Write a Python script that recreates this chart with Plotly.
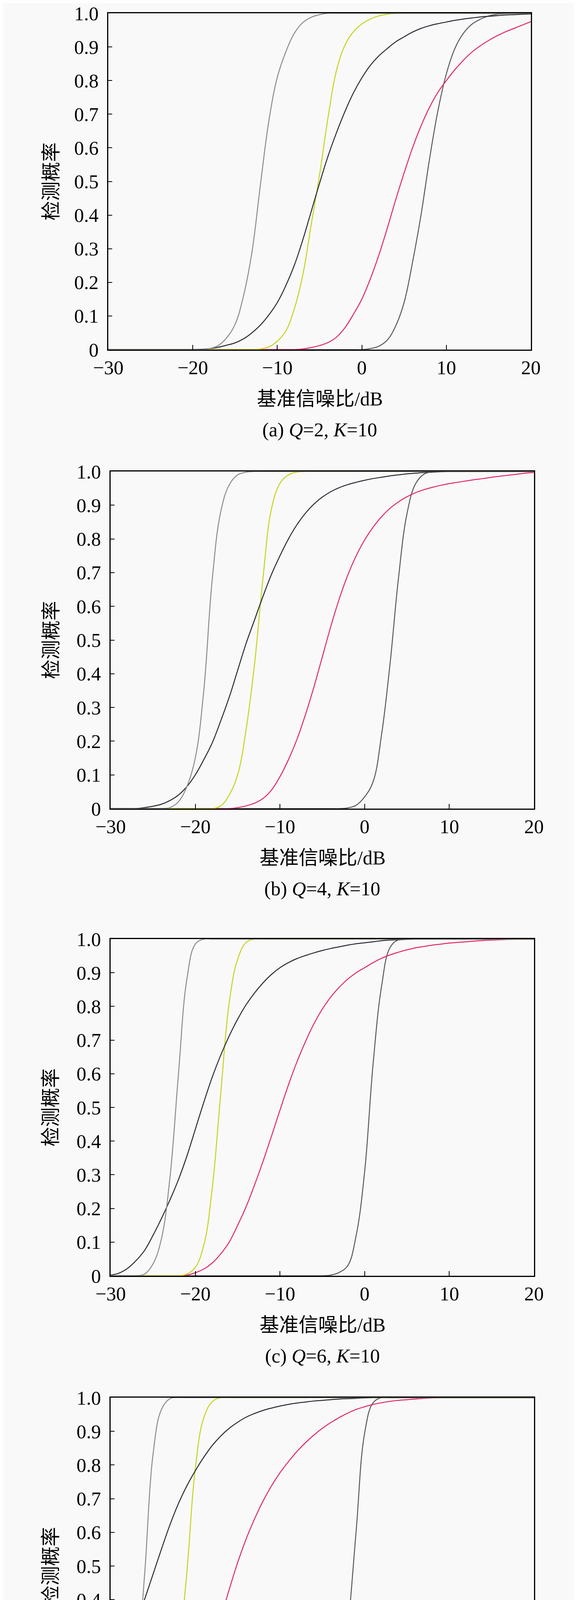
import plotly.graph_objects as go
from plotly.subplots import make_subplots

# SNR grid (dB)
X_DB = [-30, -29, -28, -27, -26, -25, -24, -23, -22, -21,
        -20, -19, -18, -17, -16, -15, -14, -13, -12, -11,
        -10, -9, -8, -7, -6, -5, -4, -3, -2, -1,
        0, 1, 2, 3, 4, 5, 6, 7, 8, 9,
        10, 11, 12, 13, 14, 15, 16, 17, 18, 19, 20]

SERIES = ["QS-MIMO", "QS-PA", "QK-MIMO", "QK-PA", "HD-PAMIMO"]
COLORS = ["#5a5a5a", "#e0286a", "#c5d31c", "#2b2b35", "#8c8c8c"]

PANEL_LETTERS = ["a", "b", "c", "d"]
PANEL_Q = [2, 4, 6, 9]
PANEL_K = 10

# ---- (a) Q=2 ----
QS_MIMO_A = [0, 0, 0, 0, 0, 0, 0, 0, 0, 0,
             0, 0, 0, 0, 0, 0, 0, 0, 0, 0,
             0, 0, 0, 0, 0, 0, 0, 0, 0, 0,
             0, 0.003, 0.01, 0.028, 0.07, 0.14, 0.26, 0.40, 0.565, 0.71,
             0.82, 0.895, 0.94, 0.967, 0.982, 0.992, 0.997, 0.999, 1, 1, 1]
QS_PA_A = [0, 0, 0, 0, 0, 0, 0, 0, 0, 0,
           0, 0, 0, 0, 0, 0, 0, 0, 0, 0,
           0, 0, 0, 0.002, 0.006, 0.012, 0.021, 0.037, 0.065, 0.105,
           0.15, 0.21, 0.28, 0.36, 0.445, 0.525, 0.60, 0.665, 0.72, 0.765,
           0.80, 0.832, 0.86, 0.884, 0.903, 0.919, 0.933, 0.945, 0.955, 0.965, 0.975]
QK_MIMO_A = [0, 0, 0, 0, 0, 0, 0, 0, 0, 0,
             0, 0, 0, 0, 0, 0, 0, 0, 0.002, 0.008,
             0.025, 0.055, 0.12, 0.22, 0.37, 0.52, 0.69, 0.83, 0.905, 0.945,
             0.968, 0.983, 0.992, 0.997, 1, 1, 1, 1, 1, 1,
             1, 1, 1, 1, 1, 1, 1, 1, 1, 1, 1]
QK_PA_A = [0, 0, 0, 0, 0, 0, 0, 0, 0, 0,
           0, 0.001, 0.003, 0.007, 0.013, 0.02, 0.032, 0.05, 0.073, 0.103,
           0.14, 0.19, 0.25, 0.325, 0.41, 0.495, 0.575, 0.645, 0.708, 0.763,
           0.808, 0.845, 0.873, 0.895, 0.915, 0.93, 0.944, 0.955, 0.963, 0.969,
           0.974, 0.979, 0.983, 0.986, 0.989, 0.991, 0.993, 0.995, 0.996, 0.997, 0.998]
HD_PAMIMO_A = [0, 0, 0, 0, 0, 0, 0, 0, 0, 0,
               0, 0, 0.003, 0.012, 0.035, 0.075, 0.16, 0.29, 0.49, 0.68,
               0.81, 0.885, 0.94, 0.972, 0.988, 0.996, 1, 1, 1, 1,
               1, 1, 1, 1, 1, 1, 1, 1, 1, 1,
               1, 1, 1, 1, 1, 1, 1, 1, 1, 1, 1]

# ---- (b) Q=4 ----
QS_MIMO_B = [0, 0, 0, 0, 0, 0, 0, 0, 0, 0,
             0, 0, 0, 0, 0, 0, 0, 0, 0, 0,
             0, 0, 0, 0, 0, 0, 0, 0, 0.002, 0.01,
             0.035, 0.08, 0.22, 0.43, 0.685, 0.875, 0.963, 0.992, 1, 1,
             1, 1, 1, 1, 1, 1, 1, 1, 1, 1, 1]
QS_PA_B = [0, 0, 0, 0, 0, 0, 0, 0, 0, 0,
           0, 0, 0, 0, 0, 0.003, 0.008, 0.016, 0.03, 0.055,
           0.095, 0.145, 0.205, 0.278, 0.36, 0.45, 0.54, 0.622, 0.692, 0.75,
           0.797, 0.835, 0.866, 0.891, 0.91, 0.925, 0.937, 0.946, 0.953, 0.959,
           0.964, 0.968, 0.972, 0.976, 0.979, 0.983, 0.986, 0.989, 0.992, 0.995, 0.997]
QK_MIMO_B = [0, 0, 0, 0, 0, 0, 0, 0, 0, 0,
             0, 0, 0, 0.008, 0.04, 0.10, 0.235, 0.43, 0.685, 0.89,
             0.965, 0.99, 0.998, 1, 1, 1, 1, 1, 1, 1,
             1, 1, 1, 1, 1, 1, 1, 1, 1, 1,
             1, 1, 1, 1, 1, 1, 1, 1, 1, 1, 1]
QK_PA_B = [0, 0, 0, 0, 0.003, 0.007, 0.013, 0.024, 0.04, 0.065,
           0.10, 0.145, 0.195, 0.26, 0.33, 0.41, 0.49, 0.56, 0.63, 0.695,
           0.75, 0.80, 0.842, 0.876, 0.903, 0.924, 0.94, 0.952, 0.961, 0.968,
           0.974, 0.979, 0.983, 0.987, 0.99, 0.993, 0.995, 0.997, 0.998, 0.999,
           1, 1, 1, 1, 1, 1, 1, 1, 1, 1, 1]
HD_PAMIMO_B = [0, 0, 0, 0, 0, 0, 0, 0.003, 0.02, 0.065,
               0.15, 0.35, 0.68, 0.88, 0.96, 0.99, 0.998, 1, 1, 1,
               1, 1, 1, 1, 1, 1, 1, 1, 1, 1,
               1, 1, 1, 1, 1, 1, 1, 1, 1, 1,
               1, 1, 1, 1, 1, 1, 1, 1, 1, 1, 1]

# ---- (c) Q=6 ----
QS_MIMO_C = [0, 0, 0, 0, 0, 0, 0, 0, 0, 0,
             0, 0, 0, 0, 0, 0, 0, 0, 0, 0,
             0, 0, 0, 0, 0, 0, 0.002, 0.01, 0.03, 0.12,
             0.31, 0.63, 0.86, 0.975, 0.998, 1, 1, 1, 1, 1,
             1, 1, 1, 1, 1, 1, 1, 1, 1, 1, 1]
QS_PA_C = [0, 0, 0, 0, 0, 0, 0, 0, 0, 0.002,
           0.009, 0.02, 0.038, 0.065, 0.10, 0.15, 0.205, 0.27, 0.34, 0.415,
           0.492, 0.567, 0.635, 0.695, 0.748, 0.792, 0.828, 0.857, 0.881, 0.90,
           0.915, 0.93, 0.943, 0.953, 0.961, 0.968, 0.974, 0.978, 0.982, 0.985,
           0.988, 0.99, 0.992, 0.994, 0.996, 0.997, 0.998, 0.999, 1, 1, 1]
QK_MIMO_C = [0, 0, 0, 0, 0, 0, 0, 0, 0, 0.005,
             0.025, 0.09, 0.26, 0.54, 0.81, 0.94, 0.99, 1, 1, 1,
             1, 1, 1, 1, 1, 1, 1, 1, 1, 1,
             1, 1, 1, 1, 1, 1, 1, 1, 1, 1,
             1, 1, 1, 1, 1, 1, 1, 1, 1, 1, 1]
QK_PA_C = [0.002, 0.008, 0.022, 0.045, 0.075, 0.12, 0.17, 0.225, 0.285, 0.355,
           0.435, 0.515, 0.59, 0.655, 0.712, 0.762, 0.805, 0.84, 0.87, 0.895,
           0.915, 0.93, 0.942, 0.951, 0.959, 0.966, 0.972, 0.977, 0.982, 0.986,
           0.989, 0.992, 0.995, 0.997, 0.998, 0.999, 1, 1, 1, 1,
           1, 1, 1, 1, 1, 1, 1, 1, 1, 1, 1]
HD_PAMIMO_C = [0, 0, 0, 0, 0.005, 0.035, 0.11, 0.29, 0.595, 0.88,
               0.985, 1, 1, 1, 1, 1, 1, 1, 1, 1,
               1, 1, 1, 1, 1, 1, 1, 1, 1, 1,
               1, 1, 1, 1, 1, 1, 1, 1, 1, 1,
               1, 1, 1, 1, 1, 1, 1, 1, 1, 1, 1]

# ---- (d) Q=9 ----
QS_MIMO_D = [0, 0, 0, 0, 0, 0, 0, 0, 0, 0,
             0, 0, 0, 0, 0, 0, 0, 0, 0, 0,
             0, 0, 0, 0, 0, 0.002, 0.02, 0.10, 0.31, 0.605,
             0.895, 0.985, 1, 1, 1, 1, 1, 1, 1, 1,
             1, 1, 1, 1, 1, 1, 1, 1, 1, 1, 1]
QS_PA_D = [0, 0, 0, 0, 0, 0.004, 0.013, 0.028, 0.05, 0.085,
           0.135, 0.195, 0.265, 0.345, 0.43, 0.51, 0.58, 0.64, 0.693, 0.738,
           0.777, 0.81, 0.84, 0.866, 0.889, 0.909, 0.926, 0.941, 0.954, 0.965,
           0.973, 0.98, 0.985, 0.989, 0.992, 0.994, 0.996, 0.998, 0.999, 1,
           1, 1, 1, 1, 1, 1, 1, 1, 1, 1, 1]
QK_MIMO_D = [0, 0, 0, 0, 0, 0, 0.006, 0.055, 0.23, 0.48,
             0.79, 0.94, 0.988, 1, 1, 1, 1, 1, 1, 1,
             1, 1, 1, 1, 1, 1, 1, 1, 1, 1,
             1, 1, 1, 1, 1, 1, 1, 1, 1, 1,
             1, 1, 1, 1, 1, 1, 1, 1, 1, 1, 1]
QK_PA_D = [0.10, 0.175, 0.255, 0.325, 0.40, 0.475, 0.55, 0.622, 0.685, 0.738,
           0.783, 0.823, 0.858, 0.886, 0.909, 0.927, 0.942, 0.953, 0.962, 0.969,
           0.975, 0.98, 0.984, 0.987, 0.99, 0.992, 0.994, 0.996, 0.997, 0.998,
           0.999, 1, 1, 1, 1, 1, 1, 1, 1, 1,
           1, 1, 1, 1, 1, 1, 1, 1, 1, 1, 1]
HD_PAMIMO_D = [0, 0.018, 0.065, 0.19, 0.47, 0.83, 0.965, 0.997, 1, 1,
               1, 1, 1, 1, 1, 1, 1, 1, 1, 1,
               1, 1, 1, 1, 1, 1, 1, 1, 1, 1,
               1, 1, 1, 1, 1, 1, 1, 1, 1, 1,
               1, 1, 1, 1, 1, 1, 1, 1, 1, 1, 1]

PANEL_DATA = [
    [QS_MIMO_A, QS_PA_A, QK_MIMO_A, QK_PA_A, HD_PAMIMO_A],
    [QS_MIMO_B, QS_PA_B, QK_MIMO_B, QK_PA_B, HD_PAMIMO_B],
    [QS_MIMO_C, QS_PA_C, QK_MIMO_C, QK_PA_C, HD_PAMIMO_C],
    [QS_MIMO_D, QS_PA_D, QK_MIMO_D, QK_PA_D, HD_PAMIMO_D],
]

X_TICKS = [-30, -20, -10, 0, 10, 20]
X_TICK_TEXT = ["\u221230", "\u221220", "\u221210", "0", "10", "20"]
Y_TICKS = [0, 0.1, 0.2, 0.3, 0.4, 0.5, 0.6, 0.7, 0.8, 0.9, 1.0]
Y_TICK_TEXT = ["0", "0.1", "0.2", "0.3", "0.4", "0.5", "0.6", "0.7", "0.8", "0.9", "1.0"]

W, H = 1476, 4740
BG = "#f9f9f9"
FONT = "Liberation Serif, 'Noto Sans CJK SC', serif"
FS = 50

# plot boxes in pixels: left, right, top, bottom
BOXES = [(269, 1350, 26, 887), (275, 1358, 1199, 2062),
         (275, 1358, 2396, 3258), (275, 1358, 3570, 4432)]
# legend box left edges (px) and vertical centre
LEGEND_X = [0, 300, 526, 850, 1090]
LEGEND_Y = 4710
LEGEND_LINE = 70

fig = make_subplots(rows=4, cols=1)

for p, series_list in enumerate(PANEL_DATA):
    for s, vals in enumerate(series_list):
        fig.add_trace(go.Scatter(
            x=X_DB, y=vals, mode="lines", name=SERIES[s],
            line=dict(color=COLORS[s], width=2.5, shape="spline", smoothing=1.1),
            showlegend=(p == 0),
            legend="legend" if s == 0 else f"legend{s + 1}",
        ), row=p + 1, col=1)

annotations = []
for p, (l, r, t, b) in enumerate(BOXES):
    suffix = "" if p == 0 else str(p + 1)
    fig.update_layout({
        f"xaxis{suffix}": dict(
            domain=[l / W, r / W], range=[-30, 20],
            tickvals=X_TICKS, ticktext=X_TICK_TEXT,
            ticks="inside", ticklen=12, tickwidth=2, tickcolor="black",
            showline=True, mirror=True, linecolor="black", linewidth=2.5,
            showgrid=False, zeroline=False, automargin=False,
            ticklabeloverflow="allow",
            tickfont=dict(family=FONT, size=FS, color="black"),
        ),
        f"yaxis{suffix}": dict(
            domain=[1 - b / H, 1 - t / H], range=[0, 1],
            tickvals=Y_TICKS, ticktext=Y_TICK_TEXT,
            ticks="inside", ticklen=10, tickwidth=2, tickcolor="black",
            showline=True, mirror=True, linecolor="black", linewidth=2.5,
            showgrid=False, zeroline=False, automargin=False,
            ticklabeloverflow="allow", ticklabelstandoff=12,
            tickfont=dict(family=FONT, size=FS, color="black"),
        ),
    })
    cx = (l + r) / 2 / W
    annotations.append(dict(
        text="基准信噪比/dB", x=cx, y=1 - (b + 126) / H,
        xref="paper", yref="paper", showarrow=False,
        xanchor="center", yanchor="middle",
        font=dict(family=FONT, size=FS, color="black")))
    annotations.append(dict(
        text=f"({PANEL_LETTERS[p]}) <i>Q</i>={PANEL_Q[p]}, <i>K</i>={PANEL_K}",
        x=cx, y=1 - (b + 205) / H,
        xref="paper", yref="paper", showarrow=False,
        xanchor="center", yanchor="middle",
        font=dict(family=FONT, size=FS, color="black")))
    annotations.append(dict(
        text="检测概率", x=122 / W, y=1 - (t + b) / 2 / H, textangle=-90,
        xref="paper", yref="paper", showarrow=False,
        xanchor="center", yanchor="middle",
        font=dict(family=FONT, size=FS, color="black")))

legends = {}
for s, lx in enumerate(LEGEND_X):
    key = "legend" if s == 0 else f"legend{s + 1}"
    legends[key] = dict(
        x=lx / W, y=1 - LEGEND_Y / H,
        xanchor="left", yanchor="middle",
        orientation="h", bgcolor="rgba(0,0,0,0)", borderwidth=0,
        itemwidth=LEGEND_LINE,
        font=dict(family=FONT, size=FS, color="black"),
    )

fig.update_layout(
    width=W, height=H, autosize=False,
    margin=dict(l=0, r=0, t=0, b=0, autoexpand=False),
    paper_bgcolor=BG, plot_bgcolor=BG,
    annotations=annotations,
    **legends,
)

fig.write_html("out.html")
